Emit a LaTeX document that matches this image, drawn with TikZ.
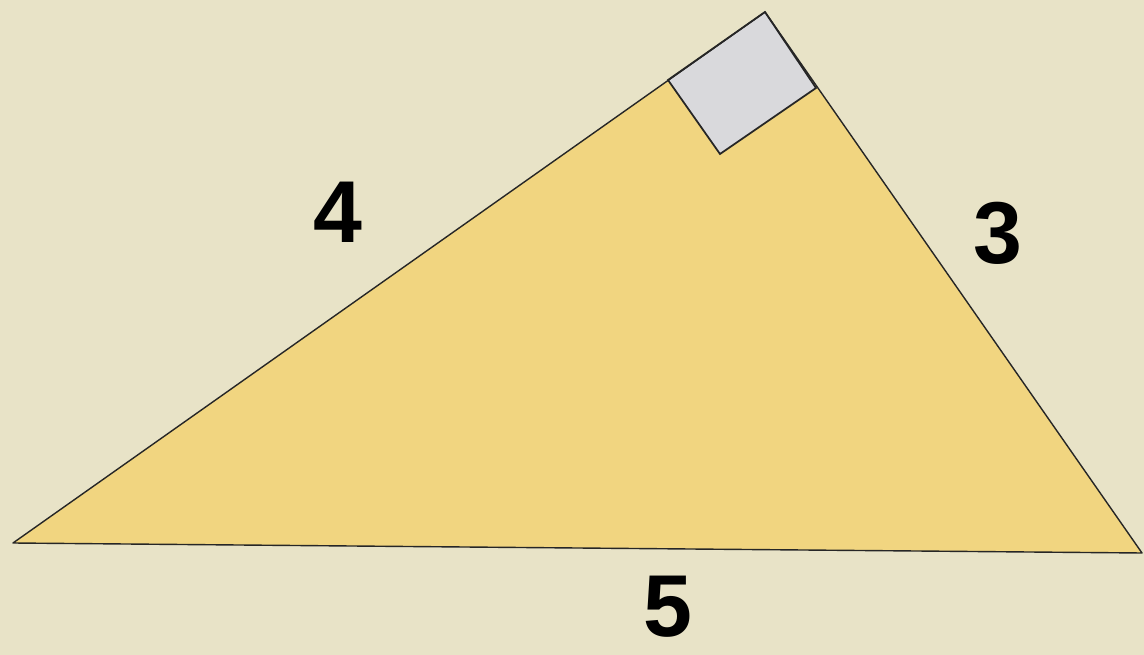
\documentclass[tikz,border=0pt]{standalone}
\usepackage{fontspec}
\setmainfont{Liberation Sans}
\usepackage{xcolor}
\definecolor{paper}{RGB}{232,227,199}
\definecolor{tri}{RGB}{241,213,128}
\definecolor{boxgray}{RGB}{217,217,220}
\tikzset{side/.style={font=\fontsize{50}{54}\selectfont\bfseries, text=black, inner sep=0pt}}

\begin{document}
\begin{tikzpicture}[x=0.02cm, y=-0.02cm]

        % background
        \fill[paper] (0,0) rectangle (1144,655);
        \useasboundingbox (0,0) rectangle (1144,655);

        \coordinate (A) at (13,543);
        \coordinate (B) at (1142,553);
        \coordinate (C) at (765,12);

        \fill[tri] (A) -- (C) -- (B) -- cycle;

        % right angle mark
        \coordinate (P) at (668,80);
        \coordinate (Q) at (816,88);
        \coordinate (R) at (720,154);
        \filldraw[fill=boxgray, draw=black!85, line width=1pt] (C) -- (Q) -- (R) -- (P) -- cycle;

        \draw[black!85, line width=0.8pt, line join=round] (A) -- (C) -- (B) -- cycle;

        \node[side] (four) at (338,212) {4};
        \node[side] (three) at (998,233) {3};
        \node[side] (five) at (668,607) {5};

\end{tikzpicture}
\end{document}
